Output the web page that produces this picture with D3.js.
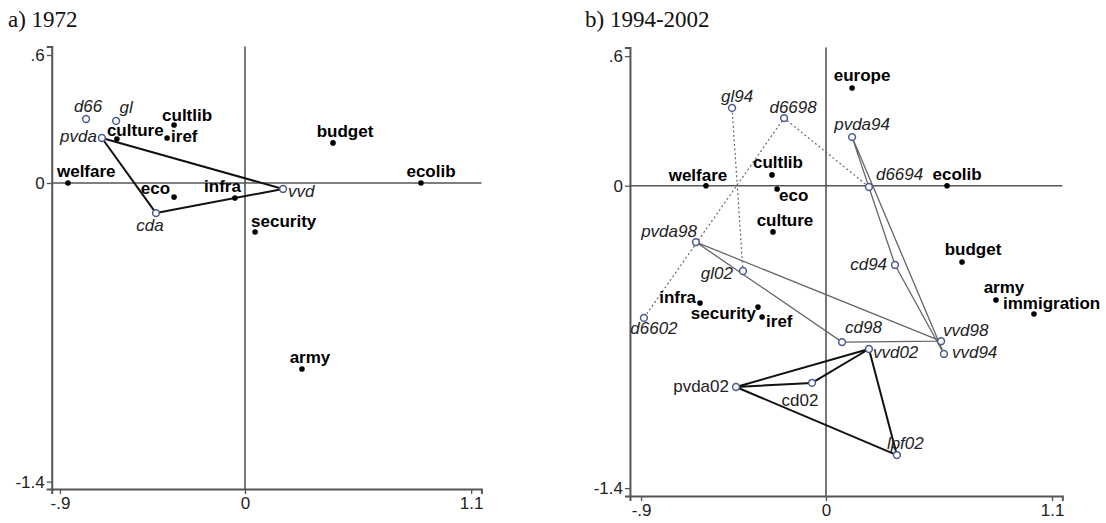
<!DOCTYPE html>
<html>
<head>
<meta charset="utf-8">
<script src="https://cdn.jsdelivr.net/npm/d3@7"></script>
<style>
  body { margin: 0; background: #fff; }
  text { font-family: "Liberation Sans", Arial, Helvetica, sans-serif; }
</style>
</head>
<body>
<div id="chart"></div>
<script>
// tick values shared by both panels
const xTicks = [-0.9, 0, 1.1];
const yTicks = [0.6, 0, -1.4];

// ---- a) 1972 ----
const issues72  = ["welfare", "cultlib", "culture", "iref", "eco", "infra", "security", "budget", "ecolib", "army"];
const issues72X = [-0.861, -0.345, -0.623, -0.379, -0.345, -0.049, 0.049, 0.428, 0.856, 0.277];
const issues72Y = [0, 0.272, 0.206, 0.211, -0.066, -0.070, -0.230, 0.188, 0, -0.872];
const parties72  = ["d66", "gl", "pvda", "vvd", "cda"];
const parties72X = [-0.773, -0.627, -0.696, 0.185, -0.433];
const parties72Y = [0.300, 0.291, 0.211, -0.028, -0.141];
const solid72 = [["pvda", "vvd", "cda", "pvda"]];

// ---- b) 1994-2002 ----
const issues9402  = ["europe", "welfare", "cultlib", "eco", "ecolib", "culture", "budget", "army", "immigration", "infra", "security", "iref"];
const issues9402X = [0.127, -0.584, -0.263, -0.238, 0.589, -0.258, 0.662, 0.827, 1.012, -0.613, -0.331, -0.311];
const issues9402Y = [0.452, 0, 0.050, -0.015, 0, -0.214, -0.353, -0.529, -0.594, -0.543, -0.562, -0.608];
const parties9402  = ["gl94", "d6698", "pvda94", "d6694", "pvda98", "gl02", "cd94", "d6602", "cd98", "vvd98", "vvd94", "vvd02", "pvda02", "cd02", "lpf02"];
const parties9402X = [-0.457, -0.204, 0.127, 0.209, -0.633, -0.404, 0.336, -0.886, 0.078, 0.560, 0.574, 0.209, -0.438, -0.068, 0.345];
const parties9402Y = [0.360, 0.313, 0.225, -0.006, -0.261, -0.395, -0.367, -0.612, -0.724, -0.720, -0.779, -0.756, -0.932, -0.913, -1.247];
const upright9402 = ["pvda02", "cd02"];
const dashed9402 = [["gl94", "gl02"], ["d6694", "d6698", "d6602"]];
const gray9402 = [["pvda94", "cd94", "vvd94", "pvda94"], ["pvda98", "cd98", "vvd98", "pvda98"]];
const solid9402 = [["pvda02", "cd02", "vvd02", "pvda02"], ["vvd02", "lpf02", "pvda02"]];

// label placement: [dx, dy, anchor]
const labelsA = {
  d66: [2, -7, "middle"], gl: [10, -8, "middle"], pvda: [-5, 4, "end"], culture: [-10, -3, "start"],
  cultlib: [-12, -4, "start"], iref: [4, 4, "start"], welfare: [-11, -6, "start"], eco: [-4, -3, "end"],
  infra: [6, -6, "end"], vvd: [5, 8, "start"], cda: [-6, 18, "middle"], security: [-4, -5, "start"],
  budget: [12, -6, "middle"], ecolib: [10, -6, "middle"], army: [8, -6, "middle"]
};
const labelsB = {
  gl94: [5, -6, "middle"], d6698: [9, -5, "middle"], europe: [10, -7, "middle"], pvda94: [10, -7, "middle"],
  d6694: [7, -7, "start"], ecolib: [10, -6, "middle"], welfare: [-8, -5, "middle"], cultlib: [6, -7, "middle"],
  eco: [2, 12, "start"], culture: [12, -6, "middle"], pvda98: [1, -5, "end"], gl02: [-10, 8, "end"],
  infra: [-4, 0, "end"], security: [-2, 12, "end"], iref: [4, 10, "start"], d6602: [10, 16, "middle"],
  cd94: [-8, 5, "end"], budget: [11, -7, "middle"], army: [8, -7, "middle"], immigration: [-31, -5, "start"],
  vvd98: [2, -5, "start"], vvd94: [8, 4, "start"], cd98: [3, -9, "start"], vvd02: [4, 9, "start"],
  pvda02: [-7, 5, "end"], cd02: [-12, 23, "middle"], lpf02: [-10, -6, "start"]
};

const W = 1106, H = 523;
const svg = d3.select("#chart").append("svg").attr("width", W).attr("height", H);

const fmt = d => d === 0 ? "0" : String(d).replace("0.", ".");

function drawPanel(p) {
  // p.x0 / p.y0 : pixel of value 0, p.kx / p.ky : pixels per unit
  const x = d3.scaleLinear().domain(p.xDom).range(p.xDom.map(v => p.x0 + v * p.kx));
  const y = d3.scaleLinear().domain(p.yDom).range(p.yDom.map(v => p.y0 - v * p.ky));
  const g = svg.append("g");

  g.append("text").attr("x", p.titleX).attr("y", 27)
    .style("font-family", "'Liberation Serif', 'Times New Roman', serif")
    .style("font-size", "23px").attr("fill", "#111").text(p.title);

  // zero lines
  g.append("line").attr("x1", x(p.xDom[0])).attr("x2", x(p.xDom[1]))
    .attr("y1", y(0)).attr("y2", y(0)).attr("stroke", "#555").attr("stroke-width", 1.6);
  g.append("line").attr("x1", x(0)).attr("x2", x(0))
    .attr("y1", y(p.yDom[0])).attr("y2", y(p.yDom[1])).attr("stroke", "#555").attr("stroke-width", 1.6);

  // axes
  const ax = g.append("g").attr("transform", "translate(" + x(p.xDom[0]) + ",0)")
    .call(d3.axisLeft(y).tickValues(yTicks).tickFormat(fmt).tickSizeOuter(0).tickSize(5).tickPadding(2));
  const bx = g.append("g").attr("transform", "translate(0," + y(p.yDom[0]) + ")")
    .call(d3.axisBottom(x).tickValues(xTicks).tickFormat(fmt).tickSizeOuter(0).tickSize(5).tickPadding(3));
  [ax, bx].forEach(a => {
    a.select(".domain").attr("stroke", "#555").attr("stroke-width", 2);
    a.selectAll(".tick line").attr("stroke", "#555").attr("stroke-width", 1.3);
    a.selectAll(".tick text").attr("fill", "#222")
      .style("font-family", "'Liberation Sans', Arial, sans-serif").style("font-size", "17px");
  });

  const pos = {};
  p.issues.forEach((n, i) => pos[n] = [p.issueX[i], p.issueY[i]]);
  p.parties.forEach((n, i) => pos[n] = [p.partyX[i], p.partyY[i]]);

  const line = d3.line().x(n => x(pos[n][0])).y(n => y(pos[n][1]));
  (p.dashed || []).forEach(path => g.append("path").attr("d", line(path)).attr("fill", "none")
    .attr("stroke", "#667").attr("stroke-width", 1.2).attr("stroke-dasharray", "2,2.5"));
  (p.gray || []).forEach(path => g.append("path").attr("d", line(path)).attr("fill", "none")
    .attr("stroke", "#666").attr("stroke-width", 1.3));
  (p.solid || []).forEach(path => g.append("path").attr("d", line(path)).attr("fill", "none")
    .attr("stroke", "#111").attr("stroke-width", 2).attr("stroke-linejoin", "round"));

  // issue points
  g.selectAll(".issue").data(p.issues).enter().append("circle")
    .attr("cx", n => x(pos[n][0])).attr("cy", n => y(pos[n][1]))
    .attr("r", 2.8).attr("fill", "#000");
  // party points
  g.selectAll(".party").data(p.parties).enter().append("circle")
    .attr("cx", n => x(pos[n][0])).attr("cy", n => y(pos[n][1]))
    .attr("r", 3.4).attr("fill", "#fff").attr("stroke", "#4a5a90").attr("stroke-width", 1.5);

  // labels
  g.selectAll(".ilab").data(p.issues).enter().append("text")
    .attr("x", n => x(pos[n][0]) + p.labels[n][0]).attr("y", n => y(pos[n][1]) + p.labels[n][1])
    .attr("text-anchor", n => p.labels[n][2])
    .style("font-size", "17px").style("font-weight", "bold").attr("fill", "#000").text(n => n);
  g.selectAll(".plab").data(p.parties).enter().append("text")
    .attr("x", n => x(pos[n][0]) + p.labels[n][0]).attr("y", n => y(pos[n][1]) + p.labels[n][1])
    .attr("text-anchor", n => p.labels[n][2])
    .style("font-size", "17px")
    .style("font-style", n => (p.upright || []).includes(n) ? "normal" : "italic")
    .attr("fill", "#222").text(n => n);
}

drawPanel({
  title: "a) 1972", titleX: 8,
  x0: 245, kx: 205.6, y0: 183, ky: 213.3, xDom: [-0.94, 1.15], yDom: [-1.435, 0.64],
  issues: issues72, issueX: issues72X, issueY: issues72Y,
  parties: parties72, partyX: parties72X, partyY: parties72Y,
  solid: solid72, labels: labelsA
});

drawPanel({
  title: "b) 1994-2002", titleX: 585,
  x0: 826, kx: 205.5, y0: 185.7, ky: 216, xDom: [-0.954, 1.15], yDom: [-1.437, 0.64],
  issues: issues9402, issueX: issues9402X, issueY: issues9402Y,
  parties: parties9402, partyX: parties9402X, partyY: parties9402Y,
  upright: upright9402, dashed: dashed9402, gray: gray9402, solid: solid9402, labels: labelsB
});
</script>
</body>
</html>
